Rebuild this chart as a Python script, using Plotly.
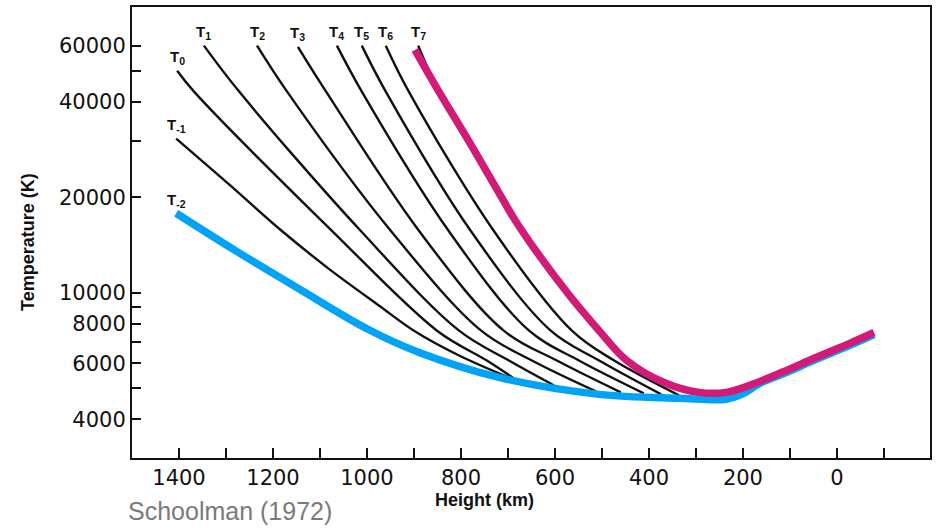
import math
import plotly.graph_objects as go

# ---------------- data (height km, temperature K) ----------------
tm2_h = [1406, 1279, 1138, 996, 889, 719, 506, 336, 236, 205, 160, 117, 45, -26, -79]
tm2_T = [17800, 13550, 10150, 7650, 6490, 5415, 4790, 4655, 4620, 4770, 5220, 5540, 6160, 6820, 7390]

tm1_h = [1406, 1294, 1181, 1081, 974, 900, 804, 698]
tm1_T = [30600, 21980, 15650, 11900, 9110, 7600, 6350, 5415]

t0_h = [1404, 1368, 1074, 851, 745, 687]
t0_T = [50000, 43000, 15650, 7600, 6120, 5375]

t1_h = [1347, 1272, 1013, 804, 698, 602]
t1_T = [60000, 43000, 15650, 7600, 6120, 5110]

t2_h = [1234, 1170, 949, 757, 649, 513]
t2_T = [60000, 43000, 15650, 7600, 6120, 4895]

t3_h = [1147, 1087, 889, 709, 596, 460]
t3_T = [59500, 43000, 15650, 7600, 6120, 4860]

t4_h = [1064, 1011, 826, 655, 549, 411]
t4_T = [60000, 43000, 15650, 7600, 6120, 4825]

t5_h = [1011, 960, 779, 609, 506, 374]
t5_T = [60000, 43000, 15650, 7600, 6120, 4790]

t6_h = [960, 911, 730, 564, 474, 336]
t6_T = [60000, 43000, 15650, 7600, 6120, 4755]

t7_h = [891, 847, 783, 709, 677, 577, 506, 447, 364, 294]
t7_T = [60000, 43000, 29960, 19440, 16230, 10150, 7600, 6120, 5190, 4860]

t7m_h = [898, 847, 783, 709, 677, 577, 506, 447, 364, 294, 236, 187, 117, 45, -26, -79]
t7m_T = [58200, 43000, 29960, 19440, 16230, 10150, 7600, 6120, 5190, 4860, 4860, 5110, 5620, 6255, 6920, 7500]

x_label_vals = [1400, 1200, 1000, 800, 600, 400, 200, 0]
x_minor_vals = [1300, 1100, 900, 700, 500, 300, 100, -100]
y_label_vals = [4000, 6000, 8000, 10000, 20000, 40000, 60000]
y_minor_vals = [5000, 7000, 9000, 30000, 50000]

BLACK = "#111111"
BLUE = "#00A3F5"
MAGENTA = "#D11B77"
SMOOTH = 1.0

fig = go.Figure()

black_curves = [
    ("T<sub>-1</sub>", tm1_h, tm1_T),
    ("T<sub>0</sub>", t0_h, t0_T),
    ("T<sub>1</sub>", t1_h, t1_T),
    ("T<sub>2</sub>", t2_h, t2_T),
    ("T<sub>3</sub>", t3_h, t3_T),
    ("T<sub>4</sub>", t4_h, t4_T),
    ("T<sub>5</sub>", t5_h, t5_T),
    ("T<sub>6</sub>", t6_h, t6_T),
    ("T<sub>7</sub>", t7_h, t7_T),
]

for name, h, T in black_curves:
    fig.add_trace(go.Scatter(x=h, y=T, mode="lines",
                             line=dict(color=BLACK, width=2.4, shape="spline", smoothing=SMOOTH),
                             hoverinfo="skip", showlegend=False))

fig.add_trace(go.Scatter(x=tm2_h, y=tm2_T, mode="lines",
                         line=dict(color=BLUE, width=7.5, shape="spline", smoothing=SMOOTH),
                         hoverinfo="skip", showlegend=False))
fig.add_trace(go.Scatter(x=t7m_h, y=t7m_T, mode="lines",
                         line=dict(color=MAGENTA, width=7.5, shape="spline", smoothing=SMOOTH),
                         hoverinfo="skip", showlegend=False))

label_font = dict(family="Liberation Sans, Arial, sans-serif", size=15, color=BLACK, weight="bold")
annotations = []
for name, h, T in black_curves + [("T<sub>-2</sub>", tm2_h, tm2_T)]:
    annotations.append(dict(x=h[0], y=math.log10(T[0]), xref="x", yref="y", text=name, showarrow=False,
                            yshift=13, xshift=0, font=label_font))

W, H = 940, 530
ML, MR, MT, MB = 132, 10, 5, 72
pw, ph = W - ML - MR, H - MT - MB


def px_ann(x, y, text, font, angle=0):
    return dict(x=(x - ML) / pw, y=1 - (y - MT) / ph, xref="paper", yref="paper", text=text,
                showarrow=False, xanchor="center", yanchor="middle", textangle=angle, font=font)


title_font = dict(family="Liberation Sans, Arial, sans-serif", size=18, color=BLACK, weight="bold")
annotations.append(px_ann(484, 500, "Height (km)", title_font))
annotations.append(px_ann(28, 241, "Temperature (K)", title_font, angle=-90))
annotations.append(px_ann(230, 511, "Schoolman (1972)",
                          dict(family="Liberation Sans, Arial, sans-serif", size=25, color="#7a7a7a")))

tick_font = dict(family="DejaVu Sans, sans-serif", size=21, color=BLACK)

fig.update_layout(
    width=W, height=H,
    margin=dict(l=ML, r=MR, t=MT, b=MB, pad=0),
    paper_bgcolor="white", plot_bgcolor="white",
    showlegend=False,
    annotations=annotations,
    xaxis=dict(range=[1500, -198], tickmode="array", tickvals=x_label_vals,
               ticks="inside", ticklen=10, tickwidth=1.8, tickcolor=BLACK,
               minor=dict(tickmode="array", tickvals=x_minor_vals, ticks="inside", ticklen=10,
                          tickwidth=1.8, tickcolor=BLACK, showgrid=False),
               showline=True, linecolor=BLACK, linewidth=2, mirror=True,
               showgrid=False, zeroline=False, tickfont=tick_font),
    yaxis=dict(type="log", range=[math.log10(3020), math.log10(79400)], tickmode="array",
               tickvals=y_label_vals,
               ticks="inside", ticklen=9, tickwidth=1.8, tickcolor=BLACK,
               minor=dict(tickmode="array", tickvals=y_minor_vals, ticks="inside", ticklen=9,
                          tickwidth=1.8, tickcolor=BLACK, showgrid=False),
               showline=True, linecolor=BLACK, linewidth=2, mirror=True,
               showgrid=False, zeroline=False, tickfont=tick_font, tickformat="d"),
)

fig.write_html("out.html", config={"displayModeBar": False},
               post_script="document.body.style.margin='0px';")
